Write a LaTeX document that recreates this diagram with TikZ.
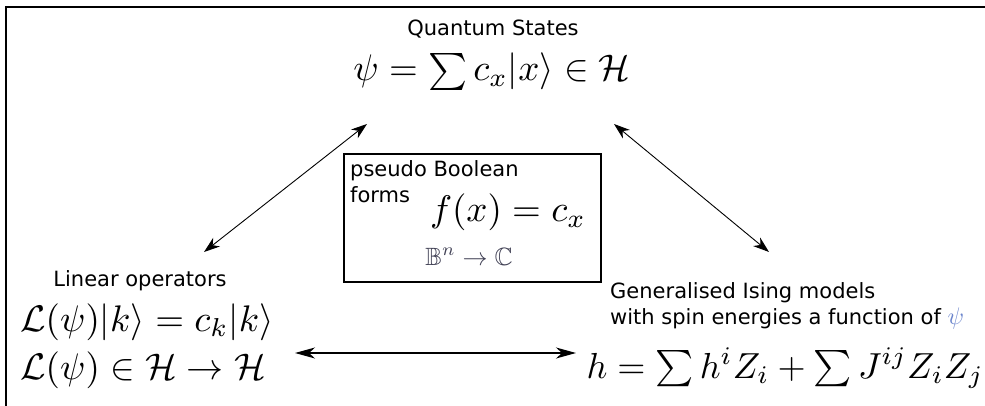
\documentclass[tikz,border=0pt]{standalone}
\usepackage{amsmath,amssymb}
\usepackage{fontspec}
\setmainfont{DejaVu Sans}
\usetikzlibrary{arrows.meta}
\definecolor{psiblue}{rgb}{0.42,0.52,0.80}
\definecolor{bngray}{rgb}{0.25,0.25,0.33}
\newcommand{\mthx}[2][3.7]{\scalebox{#1}{\fontsize{10}{12}\selectfont$#2$}}
\tikzset{
  lbl/.style={font=\fontsize{21}{25}\selectfont, inner sep=0pt},
  mth/.style={inner sep=0pt},
  diag/.style={{Stealth[length=16pt,width=11pt,inset=5pt]}-{Stealth[length=16pt,width=11pt,inset=5pt]}, line width=0.9pt},
  horiz/.style={{Stealth[length=20pt,width=11pt,inset=6pt]}-{Stealth[length=20pt,width=11pt,inset=6pt]}, line width=1.4pt},
  boxstyle/.style={draw, line width=1.5pt, minimum width=257pt, minimum height=128pt, inner sep=0pt}
}
\begin{document}
\begin{tikzpicture}[x=1pt,y=-1pt]
\useasboundingbox (0,0) rectangle (985,406);
% frame
\draw[line width=2pt] (990,7) -- (6,7) -- (6,410);
% top
\node[lbl, anchor=base] (qs) at (493,36) {Quantum States};
\node[mth, anchor=base] (qmath) at (492,81) {\mthx{\psi=\sum c_x|x\rangle\in\mathcal{H}}};
% box
\node[boxstyle] (box) at (472.5,218) {};
\node[lbl, anchor=base west] (pb) at (350,177) {pseudo Boolean};
\node[lbl, anchor=base west] (forms) at (350,203) {forms};
\node[mth, anchor=base] (fx) at (508,222) {\mthx{f(x)=c_x}};
\node[mth, text=bngray, anchor=base] (bn) at (469,265) {\mthx[2.5]{\mathbb{B}^n\to\mathbb{C}}};
% left
\node[lbl, anchor=base] (lin) at (140,286) {Linear operators};
\node[mth, anchor=base west] (l1) at (20,331) {\mthx{\mathcal{L}(\psi)|k\rangle=c_k|k\rangle}};
\node[mth, anchor=base west] (l2) at (20,379) {\mthx{\mathcal{L}(\psi)\in\mathcal{H}\to\mathcal{H}}};
% right
\node[lbl, anchor=base west] (gen1) at (610,298) {Generalised Ising models};
\node[lbl, anchor=base west] (gen2) at (610,324) {with spin energies a function of \textcolor{psiblue}{\mthx[2.4]{\psi}}};
\node[mth, anchor=base east] (hmath) at (984,378) {\mthx[3.62]{h=\sum h^iZ_i+\sum J^{ij}Z_iZ_j}};
% arrows
\coordinate (tl1) at (367,124);
\coordinate (tl2) at (204,252);
\coordinate (tr1) at (614,124);
\coordinate (tr2) at (769,252);
\coordinate (h1) at (295,353);
\coordinate (h2) at (576,353);
\draw[diag] (tl1) -- (tl2);
\draw[diag] (tr1) -- (tr2);
\draw[horiz] (h1) -- (h2);
\end{tikzpicture}
\end{document}
